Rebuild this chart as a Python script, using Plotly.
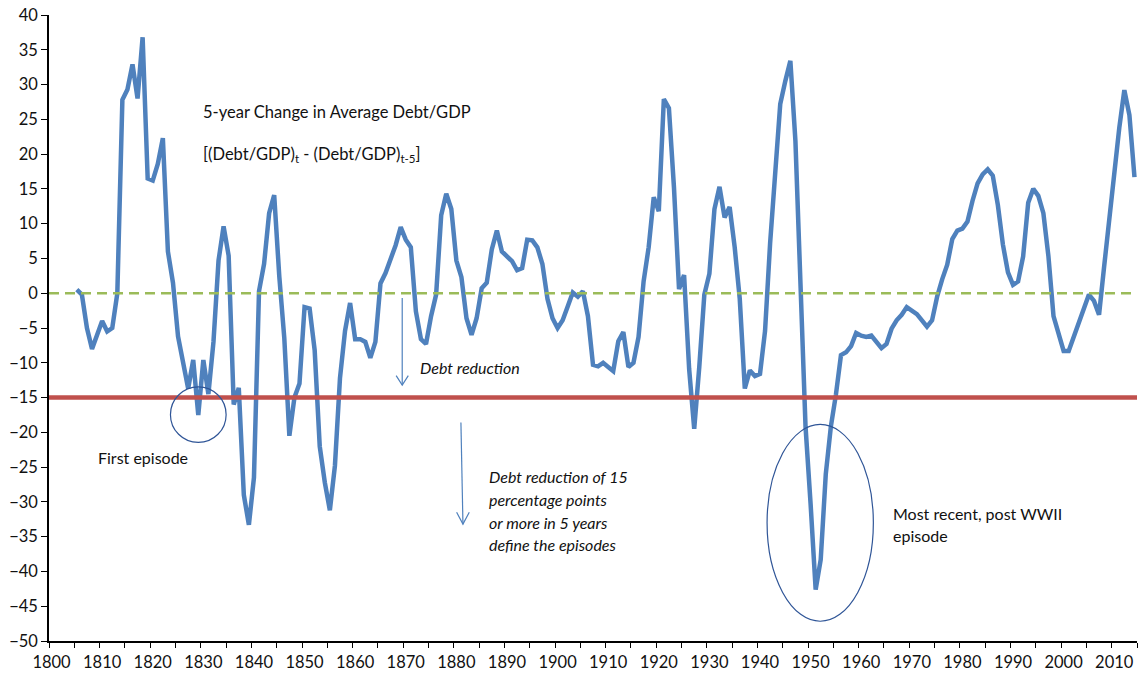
import plotly.graph_objects as go

# ---- data -------------------------------------------------------------
years = list(range(1805, 2015))
change_debt_gdp = [
    0.5, -0.2, -5.0, -8.0, -6.0, -4.0, -5.5, -5.0, 0.0, 27.8,          # 1805-1814
    29.3, 32.9, 28.0, 36.8, 16.5, 16.2, 18.6, 22.3, 6.0, 1.5,          # 1815-1824
    -6.2, -10.0, -13.7, -9.6, -17.5, -9.6, -14.5, -7.0, 4.7, 9.6,      # 1825-1834
    5.4, -16.0, -13.6, -29.0, -33.3, -26.5, 0.3, 4.2, 11.5, 14.1,      # 1835-1844
    2.5, -6.5, -20.5, -15.0, -13.0, -2.0, -2.2, -8.2, -22.0, -27.2,    # 1845-1854
    -31.2, -24.8, -12.2, -5.4, -1.4, -6.6, -6.6, -7.0, -9.3, -7.0,     # 1855-1864
    1.4, 2.9, 5.0, 6.9, 9.5, 7.7, 6.6, -2.6, -6.6, -7.3,               # 1865-1874
    -3.3, -0.2, 11.2, 14.3, 12.1, 4.7, 2.3, -3.6, -6.0, -3.6,          # 1875-1884
    0.7, 1.5, 6.3, 9.0, 6.0, 5.3, 4.6, 3.3, 3.6, 7.7,                  # 1885-1894
    7.6, 6.6, 4.2, -0.8, -3.6, -5.0, -3.9, -1.9, 0.1, -0.5,            # 1895-1904
    0.3, -3.3, -10.3, -10.5, -10.0, -10.6, -11.2, -6.9, -5.6, -10.6,   # 1905-1914
    -10.0, -6.3, 1.7, 6.6, 13.8, 11.8, 27.9, 26.6, 15.2, 0.6,          # 1915-1924
    2.6, -10.9, -19.5, -10.6, -0.2, 2.8, 12.1, 15.3, 10.9, 12.4,       # 1925-1934
    6.6, -0.8, -13.7, -11.1, -11.9, -11.6, -5.4, 7.2, 17.6, 27.2,      # 1935-1944
    30.5, 33.4, 21.9, -0.8, -19.2, -30.3, -42.6, -38.3, -26.0, -19.2,  # 1945-1954
    -14.6, -8.9, -8.5, -7.6, -5.7, -6.1, -6.3, -6.1, -6.9, -7.9,       # 1955-1964
    -7.3, -5.1, -3.9, -3.1, -2.0, -2.6, -3.0, -3.9, -4.8, -3.9,        # 1965-1974
    -0.5, 2.0, 4.1, 7.8, 9.0, 9.3, 10.3, 13.3, 15.8, 17.1,             # 1975-1984
    17.8, 16.9, 12.7, 7.0, 3.0, 1.2, 1.7, 5.3, 13.0, 15.0,             # 1985-1994
    14.0, 11.5, 5.3, -3.3, -5.7, -8.3, -8.3, -6.3, -4.3, -2.6,         # 1995-2004
    -0.2, -1.1, -3.1, 3.8, 10.9, 17.6, 23.8, 29.2, 25.6, 16.7,         # 2005-2014
]
zero_level = 0
episode_threshold = -15
x_tick_labels = [str(y) for y in range(1800, 2011, 10)]
x_tick_values = list(range(1800, 2011, 10))
y_tick_values = list(range(-50, 41, 5))

FONT = "Lato, 'Open Sans', Arial, sans-serif"
BLUE = "#4F81BD"
RED = "#C0504D"
GREEN = "#9BBB59"
ANN = "#2F5597"

fig = go.Figure()
fig.add_trace(go.Scatter(
    x=years, y=change_debt_gdp, mode="lines",
    line=dict(color=BLUE, width=4.5), hoverinfo="x+y", showlegend=False,
))

# reference lines
fig.add_shape(type="line", xref="paper", x0=0, x1=1, yref="y",
              y0=zero_level, y1=zero_level,
              line=dict(color=GREEN, width=2.5, dash="10px,6px"), layer="above")
fig.add_shape(type="line", xref="paper", x0=0, x1=1, yref="y",
              y0=episode_threshold, y1=episode_threshold,
              line=dict(color=RED, width=4.5), layer="above")

# ellipses
fig.add_shape(type="circle", xref="x", yref="y", x0=1823.5, x1=1834.5,
              y0=-21.45, y1=-13.46, line=dict(color=ANN, width=1.2))
fig.add_shape(type="circle", xref="x", yref="y", x0=1941.4, x1=1962.4,
              y0=-47.16, y1=-18.87, line=dict(color=ANN, width=1.2))

# arrows (open V heads)
def arrow(x0, y0, x1, y1, hx, hy):
    fig.add_shape(type="line", xref="x", yref="y", x0=x0, y0=y0, x1=x1, y1=y1,
                  line=dict(color=BLUE, width=1.2))
    fig.add_shape(type="path", xref="x", yref="y",
                  path=f"M {x1-hx},{y1+hy} L {x1},{y1} L {x1+hx},{y1+hy}",
                  line=dict(color=BLUE, width=1.2))

arrow(1869.3, -0.7, 1869.3, -13.2, 1.2, 1.35)
arrow(1880.9, -18.6, 1881.3, -33.2, 1.25, 1.7)

def text(x, y, s, italic=False, size=16):
    fig.add_annotation(x=x, y=y, xref="x", yref="y", text=s, showarrow=False,
                       xanchor="left", yanchor="middle",
                       font=dict(family=FONT, size=size, color="#111111",
                                 style="italic" if italic else "normal"))

text(1829.6, 26.1, "5-year Change in Average Debt/GDP", size=16.5)
text(1829.6, 20.0, "[(Debt/GDP)<sub>t</sub> - (Debt/GDP)<sub>t-5</sub>]", size=16.5)
text(1872.5, -10.75, "Debt reduction", italic=True)
text(1886.1, -26.4, "Debt reduction of 15", italic=True)
text(1886.1, -29.6, "percentage points", italic=True)
text(1886.1, -32.9, "or more in 5 years", italic=True)
text(1886.1, -36.1, "define the episodes", italic=True)
text(1808.7, -23.6, "First episode")
text(1965.9, -31.6, "Most recent, post WWII")
text(1965.9, -34.8, "episode")

fig.update_layout(
    width=1138, height=674,
    margin=dict(l=49, r=1, t=15, b=33, autoexpand=False),
    paper_bgcolor="white", plot_bgcolor="white",
    font=dict(family=FONT, size=16, color="#111111"),
    showlegend=False,
    xaxis=dict(
        range=[1799.5, 2014.5], tickmode="array", tickvals=x_tick_values,
        ticktext=x_tick_labels, ticks="", showgrid=False, zeroline=False,
        showline=True, linecolor="black", linewidth=1.5,
        tickfont=dict(size=16.5), ticklabelstandoff=5,
        minor=dict(tickmode="linear", tick0=1799.5, dtick=5, ticks="outside",
                   ticklen=5, tickwidth=1.2, tickcolor="black", showgrid=False),
    ),
    yaxis=dict(
        range=[-50, 40], tickmode="array", tickvals=y_tick_values,
        ticks="outside", ticklen=6, tickwidth=1.2, tickcolor="black",
        showgrid=False, zeroline=False, showline=True, linecolor="black",
        linewidth=1.5, tickfont=dict(size=16.5),
    ),
)

fig.write_html("out.html", config={"displayModeBar": False},
               post_script="document.body.style.margin='0';document.body.style.overflow='hidden';")
